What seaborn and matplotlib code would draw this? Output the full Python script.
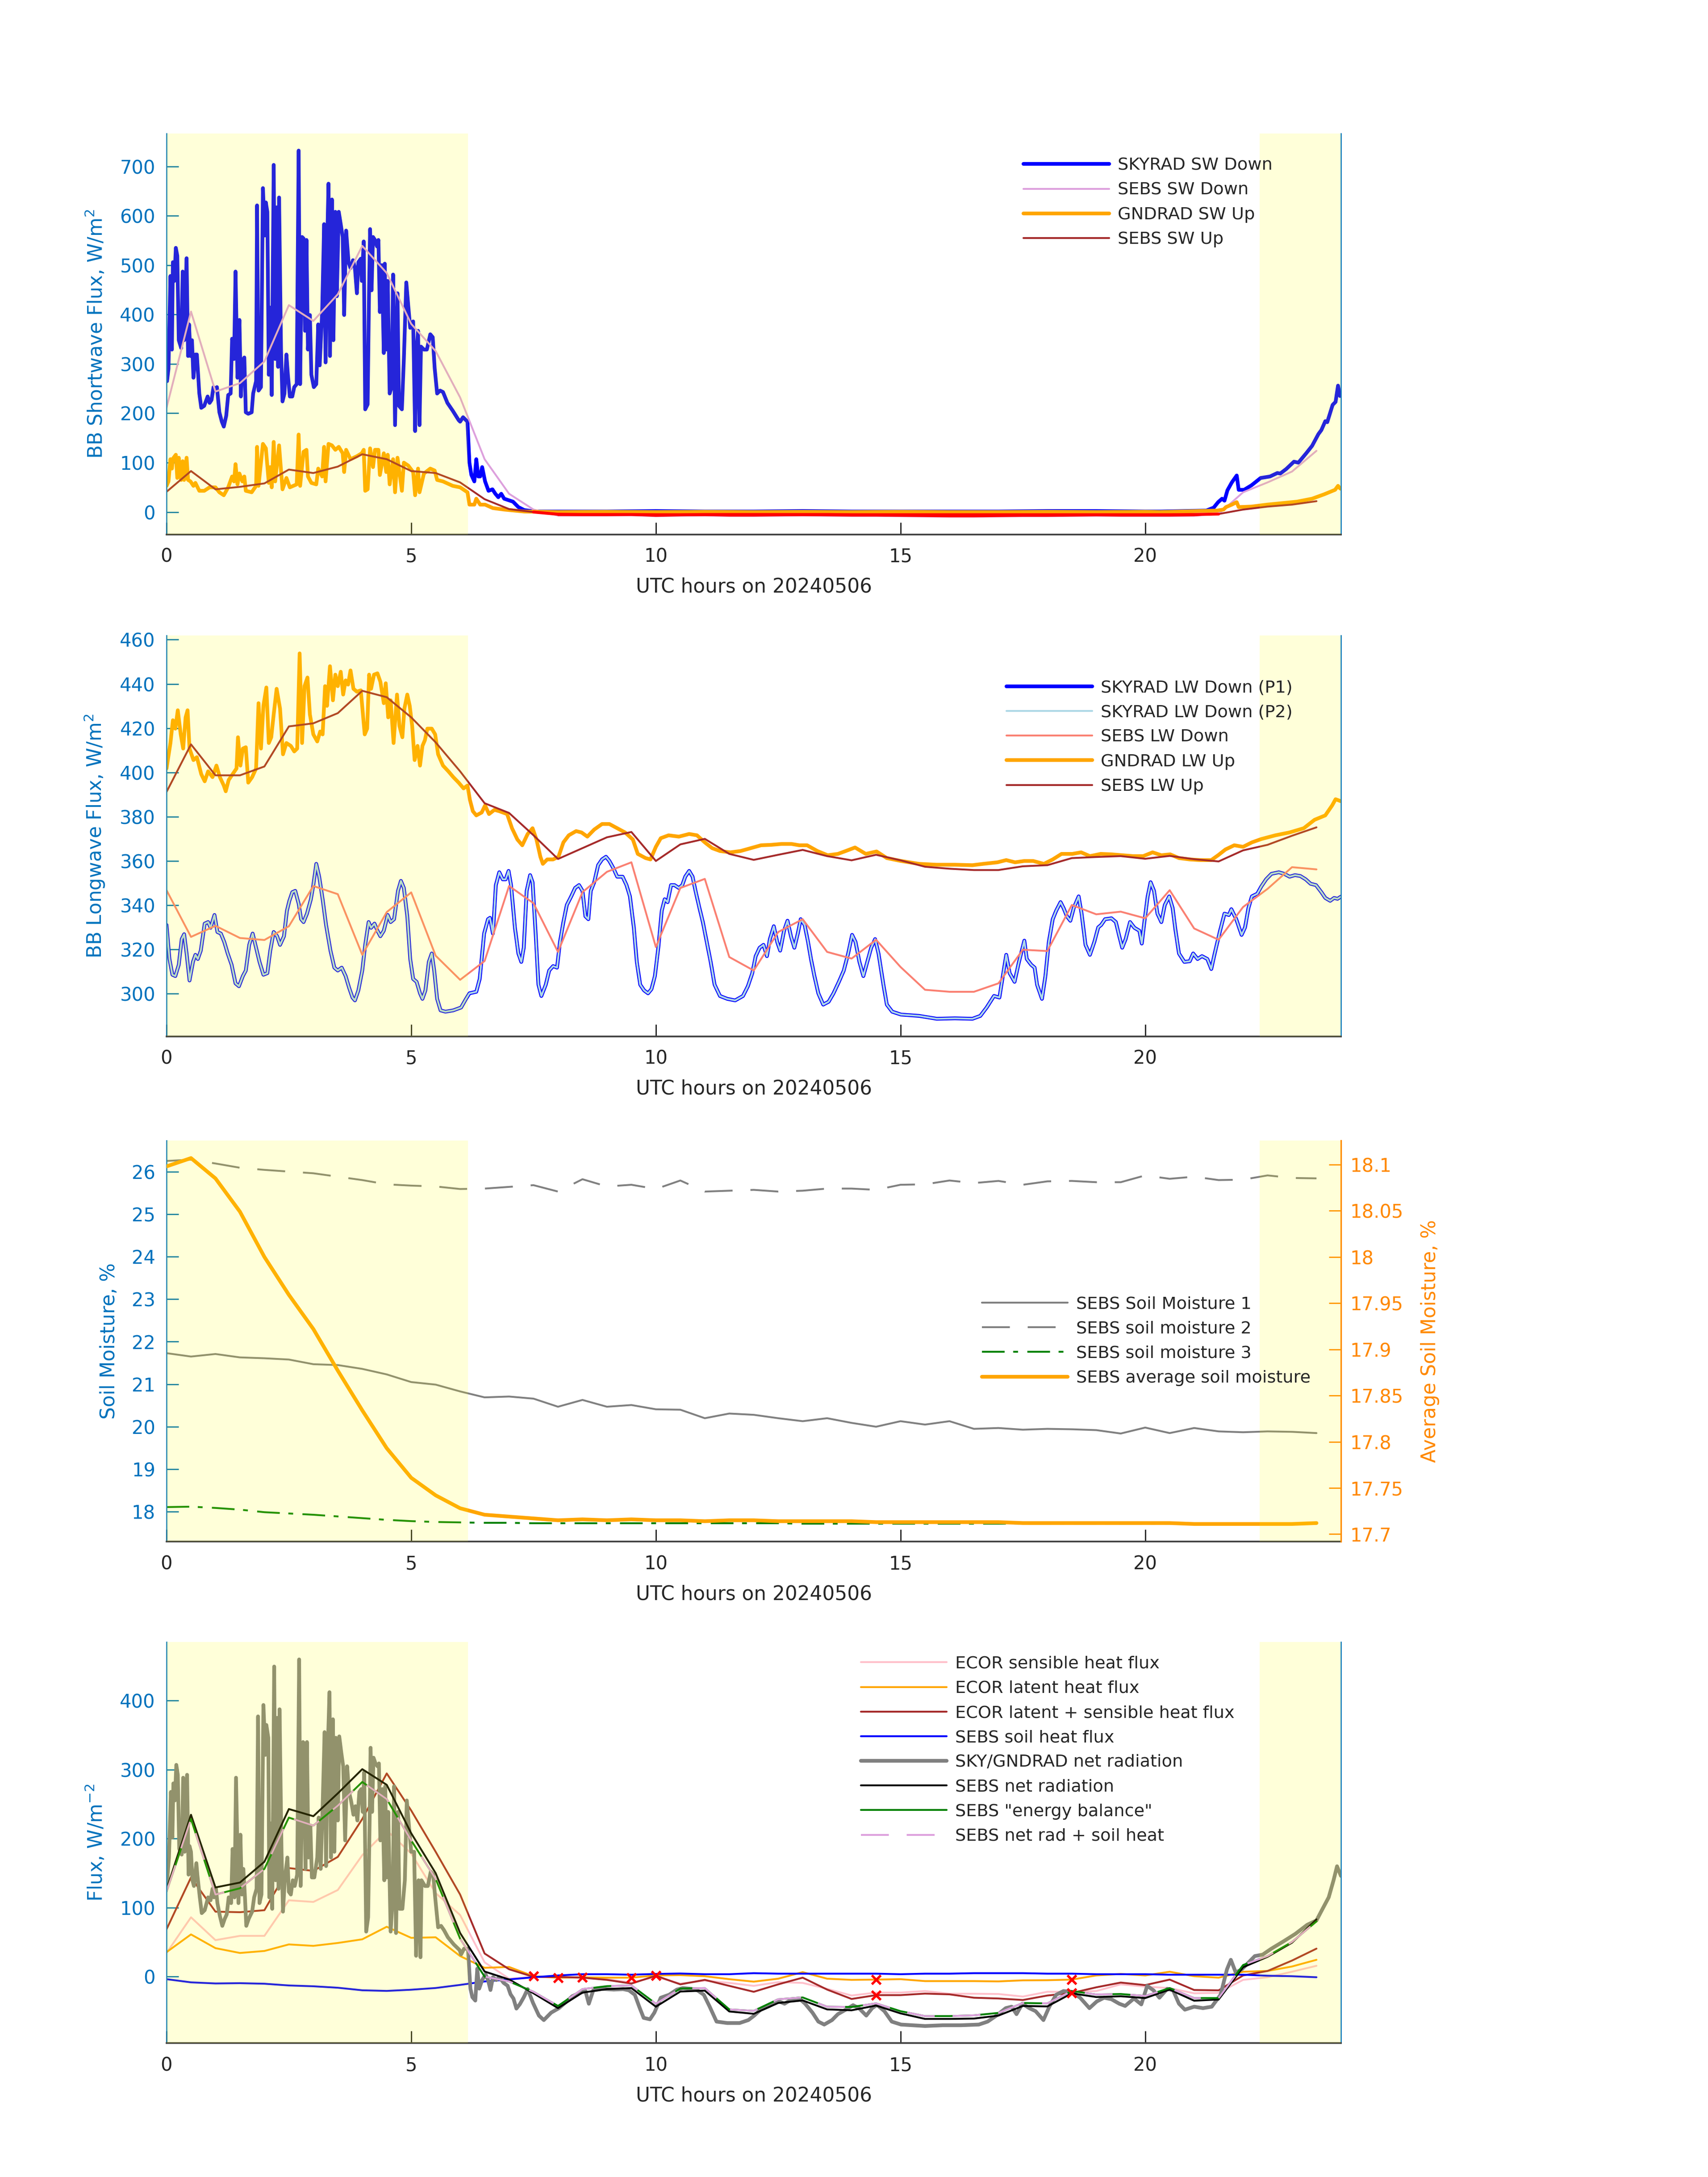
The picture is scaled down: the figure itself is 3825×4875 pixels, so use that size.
import numpy as np
import matplotlib
matplotlib.use("Agg")
import matplotlib.pyplot as plt
import seaborn as sns
from matplotlib.ticker import FuncFormatter

# ------------------------------------------------------------------ data
hour_ticks = [0, 5, 10, 15, 20]
day_spans = [(0.0, 6.16), (22.34, 24.0)]

sebs_hours = [0.0, 0.5, 1.0, 1.5, 2.0, 2.5, 3.0, 3.5, 4.0, 4.5, 5.0, 5.5, 6.0, 6.5, 7.0, 7.5,
              8.0, 8.5, 9.0, 9.5, 10.0, 10.5, 11.0, 11.5, 12.0, 12.5, 13.0, 13.5, 14.0, 14.5, 15.0, 15.5,
              16.0, 16.5, 17.0, 17.5, 18.0, 18.5, 19.0, 19.5, 20.0, 20.5, 21.0, 21.5, 22.0, 22.5, 23.0, 23.5]

# ---- panel 1 : shortwave
sky_sw_hours = [0.00, 0.01, 0.04, 0.08, 0.11, 0.13, 0.16, 0.19, 0.22, 0.25,
                0.30, 0.33, 0.36, 0.41, 0.44, 0.46, 0.49, 0.52, 0.55, 0.59,
                0.62, 0.67, 0.71, 0.77, 0.84, 0.88, 0.92, 0.96, 1.00, 1.03,
                1.08, 1.13, 1.17, 1.22, 1.26, 1.31, 1.34, 1.38, 1.41, 1.45,
                1.49, 1.52, 1.55, 1.59, 1.62, 1.67, 1.74, 1.77, 1.83, 1.85,
                1.88, 1.93, 1.97, 2.01, 2.03, 2.06, 2.09, 2.12, 2.15, 2.19,
                2.22, 2.25, 2.28, 2.30, 2.34, 2.37, 2.41, 2.45, 2.48, 2.52,
                2.57, 2.61, 2.66, 2.70, 2.73, 2.77, 2.80, 2.83, 2.86, 2.89,
                2.93, 2.96, 3.01, 3.06, 3.10, 3.13, 3.18, 3.22, 3.25, 3.28,
                3.31, 3.34, 3.38, 3.41, 3.45, 3.48, 3.52, 3.56, 3.60, 3.63,
                3.67, 3.72, 3.76, 3.81, 3.85, 3.89, 3.92, 3.97, 3.99, 4.03,
                4.06, 4.11, 4.14, 4.16, 4.19, 4.22, 4.26, 4.30, 4.33, 4.36,
                4.40, 4.44, 4.46, 4.49, 4.52, 4.56, 4.60, 4.63, 4.67, 4.72,
                4.75, 4.81, 4.85, 4.90, 4.94, 4.98, 5.04, 5.08, 5.11, 5.14,
                5.17, 5.20, 5.26, 5.32, 5.39, 5.44, 5.48, 5.53, 5.59, 5.65,
                5.74, 5.85, 5.97, 6.00, 6.06, 6.15, 6.19, 6.23, 6.29, 6.33,
                6.37, 6.41, 6.45, 6.51, 6.58, 6.66, 6.72, 6.78, 6.84, 6.90,
                6.99, 7.08, 7.19, 7.31, 7.53,
                8.0, 9.0, 10.0, 11.0, 12.0, 13.0, 14.0, 15.0, 16.0, 17.0,
                18.0, 19.0, 20.0, 20.32, 21.25, 21.40, 21.49, 21.57, 21.62, 21.68,
                21.77, 21.87, 21.91, 22.02, 22.17, 22.36, 22.55, 22.70, 22.76, 22.88,
                23.04, 23.13, 23.29, 23.41, 23.54, 23.60, 23.68, 23.72, 23.83, 23.89,
                23.94, 23.98, 24.0]
sky_sw_down = [265, 265, 290, 478, 329, 506, 468, 535, 519, 348,
               332, 487, 348, 514, 316, 380, 316, 348, 272, 319,
               319, 240, 211, 215, 234, 221, 227, 253, 246, 253,
               202, 183, 173, 195, 237, 240, 351, 310, 487, 272,
               389, 234, 307, 313, 202, 199, 202, 240, 265, 621,
               246, 253, 656, 560, 627, 608, 278, 414, 237, 703,
               310, 617, 294, 637, 329, 224, 240, 319, 278, 234,
               234, 253, 259, 732, 259, 557, 554, 367, 551, 329,
               399, 278, 253, 259, 380, 297, 405, 583, 303, 532,
               665, 316, 633, 348, 608, 437, 608, 583, 557, 399,
               570, 506, 494, 510, 494, 443, 506, 513, 468, 548,
               208, 218, 456, 573, 449, 557, 551, 538, 551, 405,
               500, 322, 503, 329, 468, 240, 253, 481, 176, 443,
               215, 208, 310, 465, 418, 373, 386, 164, 329, 367,
               176, 335, 329, 329, 360, 354, 291, 240, 246, 243,
               221, 205, 186, 183, 192, 183, 100, 75, 62, 107,
               72, 72, 91, 62, 43, 46, 37, 30, 37, 27,
               24, 21, 10, 4, 1,
               1, 1, 2, 1, 1, 2, 1, 1, 1, 1,
               2, 2, 1, 1, 3, 9, 20, 27, 23, 44,
               60, 74, 45, 45, 54, 69, 72, 79, 78, 87,
               102, 100, 119, 134, 158, 166, 184, 182, 217, 223,
               256, 235, 236]

gnd_sw_hours = [0.0, 0.04, 0.08, 0.11, 0.13, 0.19, 0.22, 0.25, 0.30, 0.33,
                0.36, 0.41, 0.44, 0.49, 0.55, 0.59, 0.67, 0.77, 0.88, 1.00,
                1.08, 1.17, 1.26, 1.34, 1.38, 1.41, 1.45, 1.49, 1.55, 1.59,
                1.62, 1.74, 1.83, 1.85, 1.88, 1.97, 2.03, 2.09, 2.12, 2.15,
                2.19, 2.22, 2.30, 2.37, 2.45, 2.52, 2.66, 2.70, 2.73, 2.80,
                2.86, 2.89, 2.96, 3.06, 3.10, 3.18, 3.22, 3.25, 3.31, 3.38,
                3.45, 3.52, 3.60, 3.63, 3.67, 3.76, 3.89, 3.99, 4.03, 4.06,
                4.11, 4.16, 4.22, 4.26, 4.33, 4.36, 4.44, 4.49, 4.52, 4.56,
                4.63, 4.67, 4.72, 4.81, 4.85, 4.94, 5.04, 5.08, 5.14, 5.17,
                5.26, 5.39, 5.48, 5.53, 5.65, 5.85, 6.00, 6.15, 6.19, 6.29,
                6.33, 6.41, 6.51, 6.67, 6.90, 7.31,
                8.0, 9.0, 10.0, 11.0, 12.0, 13.0, 14.0, 15.0, 16.0, 17.0,
                18.0, 19.0, 20.0, 20.3, 21.47, 21.6, 21.65, 21.77, 21.87, 21.91,
                22.17, 22.49, 22.8, 23.1, 23.41, 23.66, 23.88, 23.94, 23.98, 24.0]
gnd_sw_up = [53, 62, 107, 88, 108, 116, 69, 110, 65, 103,
             65, 110, 65, 62, 53, 59, 43, 43, 50, 50,
             40, 34, 50, 72, 62, 97, 56, 78, 62, 72,
             43, 40, 53, 132, 53, 138, 129, 59, 91, 50,
             142, 62, 135, 46, 69, 50, 56, 157, 53, 122,
             126, 72, 59, 56, 88, 72, 132, 62, 138, 135,
             126, 132, 119, 81, 126, 107, 113, 119, 126, 43,
             46, 129, 91, 126, 126, 75, 119, 81, 116, 56,
             107, 40, 110, 43, 100, 94, 81, 34, 88, 40,
             78, 88, 84, 65, 62, 53, 50, 40, 15, 15,
             27, 15, 15, 8, 5, 1,
             0, 0.5, 0, 0.5, 0, 0.5, 0, 0.5, 0, 0,
             0.5, 0, 0.5, 0, 3, 5, 10, 15, 20, 10,
             11, 15, 18, 21, 27, 36, 45, 53, 48, 47]

sebs_sw_down = [211, 406, 244, 261, 305, 419, 387, 441, 539, 484, 381, 326, 232, 107, 37, 5,
                -7, -7, -7, -6.5, -8.5, -7.5, -7, -8, -8, -7.5, -7, -7.5, -8, -8, -8.5, -9,
                -9.5, -9.5, -9, -8.5, -8.5, -8, -7.5, -8, -8, -8, -7.5, -4, 40, 60, 82, 124]
sebs_sw_up = [41, 83, 46, 51, 58, 86, 79, 92, 117, 107, 83, 79, 60, 26, 6, 0,
              -4.5, -5, -5, -5, -5.5, -5.5, -5, -5, -5, -5, -5, -5, -5.5, -5.5, -5.5, -5.5,
              -5.5, -5.5, -5.5, -5.5, -5.5, -5.5, -5.5, -5.5, -5.5, -5.5, -5, -4, 5, 11, 15, 22]

# ---- panel 2 : longwave
sky_lw = np.array([
    [0.00, 331.1], [0.06, 315.7], [0.12, 308.6], [0.18, 308.0], [0.25, 313.1], [0.31, 324.7], [0.36, 326.9], [0.41, 318.2],
    [0.47, 306.0], [0.54, 314.4], [0.59, 317.6], [0.64, 315.7], [0.70, 319.5], [0.78, 331.7], [0.85, 332.4], [0.90, 329.8],
    [0.98, 335.6], [1.04, 327.9], [1.11, 327.2], [1.18, 323.4], [1.25, 318.2], [1.33, 313.1], [1.41, 304.7], [1.48, 303.4],
    [1.56, 308.0], [1.62, 310.5], [1.69, 322.1], [1.76, 327.2], [1.83, 320.8], [1.90, 314.4], [1.98, 308.6], [2.06, 309.3],
    [2.12, 319.5], [2.19, 327.9], [2.26, 326.0], [2.32, 322.1], [2.40, 326.0], [2.46, 337.5], [2.51, 342.0], [2.57, 345.9],
    [2.63, 346.5], [2.70, 340.7], [2.75, 333.7], [2.80, 332.4], [2.87, 336.2], [2.95, 342.7], [3.00, 349.1], [3.06, 358.7],
    [3.12, 352.9], [3.19, 342.7], [3.26, 331.1], [3.35, 319.5], [3.43, 311.8], [3.50, 310.5], [3.58, 311.8], [3.66, 308.0],
    [3.73, 302.8], [3.80, 298.3], [3.85, 297.0], [3.92, 301.5], [4.00, 310.5], [4.06, 322.1], [4.13, 332.4], [4.18, 329.8],
    [4.25, 331.7], [4.31, 328.5], [4.37, 326.0], [4.44, 328.5], [4.52, 335.6], [4.58, 332.4], [4.65, 333.7], [4.73, 346.5],
    [4.79, 351.0], [4.85, 347.8], [4.92, 335.0], [4.98, 315.7], [5.04, 306.7], [5.11, 305.4], [5.18, 300.2], [5.23, 297.7],
    [5.29, 301.5], [5.36, 314.4], [5.42, 318.2], [5.47, 310.5], [5.53, 297.7], [5.60, 292.5], [5.70, 291.9], [5.86, 292.5],
    [6.02, 293.8], [6.12, 297.7], [6.19, 300.2], [6.33, 300.9], [6.40, 306.7], [6.49, 327.2], [6.57, 333.7], [6.61, 334.3],
    [6.67, 327.2], [6.73, 349.1], [6.80, 354.9], [6.87, 351.7], [6.93, 351.7], [6.99, 355.5], [7.04, 349.1], [7.12, 329.8],
    [7.19, 318.2], [7.25, 314.4], [7.30, 320.8], [7.36, 346.5], [7.43, 353.6], [7.48, 350.4], [7.54, 328.5], [7.60, 304.1],
    [7.66, 299.0], [7.75, 304.1], [7.82, 310.5], [7.90, 312.5], [7.98, 311.8], [8.04, 323.4], [8.11, 332.4], [8.18, 340.1],
    [8.27, 344.0], [8.35, 347.8], [8.43, 349.1], [8.50, 346.5], [8.56, 335.0], [8.62, 333.7], [8.67, 346.5], [8.74, 350.4],
    [8.82, 358.1], [8.90, 360.7], [8.98, 361.9], [9.05, 360.0], [9.13, 356.8], [9.21, 352.9], [9.32, 352.9], [9.40, 349.1],
    [9.47, 344.0], [9.55, 329.8], [9.61, 314.4], [9.68, 304.1], [9.76, 301.5], [9.84, 300.2], [9.91, 302.1], [9.98, 308.0],
    [10.05, 320.8], [10.12, 337.5], [10.18, 342.7], [10.24, 341.4], [10.31, 349.1], [10.38, 349.1], [10.47, 347.8],
    [10.54, 349.1], [10.60, 352.9], [10.68, 355.5], [10.75, 352.9], [10.81, 346.5], [10.89, 338.8], [10.96, 332.4],
    [11.04, 323.4], [11.12, 314.4], [11.20, 304.1], [11.31, 299.0], [11.46, 297.7], [11.62, 297.0], [11.78, 299.0],
    [11.88, 303.4], [11.97, 309.3], [12.04, 317.0], [12.12, 320.8], [12.20, 322.1], [12.27, 317.0], [12.33, 324.7],
    [12.41, 330.5], [12.48, 323.4], [12.54, 319.5], [12.62, 328.5], [12.69, 333.0], [12.76, 326.0], [12.83, 320.8],
    [12.90, 327.2], [12.96, 333.7], [13.04, 331.1], [13.11, 323.4], [13.17, 315.7], [13.24, 308.0], [13.32, 300.2],
    [13.42, 295.1], [13.53, 296.4], [13.63, 300.2], [13.74, 305.4], [13.84, 310.5], [13.93, 318.2], [14.01, 326.6],
    [14.08, 323.4], [14.16, 314.4], [14.24, 308.0], [14.32, 314.4], [14.40, 320.8], [14.48, 324.7], [14.55, 318.2],
    [14.65, 304.1], [14.72, 295.1], [14.83, 291.9], [15.01, 290.6], [15.38, 290.0], [15.74, 288.7], [16.11, 288.9],
    [16.47, 288.7], [16.63, 290.0], [16.76, 293.8], [16.91, 299.0], [17.02, 298.3], [17.09, 308.0], [17.16, 317.6],
    [17.23, 309.3], [17.33, 305.4], [17.42, 314.4], [17.53, 324.0], [17.58, 315.7], [17.67, 313.1], [17.74, 311.8],
    [17.79, 304.1], [17.89, 297.7], [17.96, 308.0], [18.03, 323.4], [18.11, 333.7], [18.18, 337.5], [18.27, 341.4],
    [18.33, 338.8], [18.40, 335.0], [18.47, 333.0], [18.54, 338.8], [18.64, 344.0], [18.70, 336.2], [18.78, 322.1],
    [18.87, 317.6], [18.96, 323.4], [19.04, 330.0], [19.10, 331.1], [19.18, 333.7], [19.31, 334.1], [19.40, 332.4],
    [19.47, 326.0], [19.53, 320.8], [19.60, 324.7], [19.69, 332.4], [19.78, 329.8], [19.88, 328.5], [19.93, 322.7],
    [19.99, 333.7], [20.05, 344.0], [20.11, 350.4], [20.18, 346.5], [20.25, 336.2], [20.33, 332.4], [20.40, 340.1],
    [20.49, 344.0], [20.56, 338.8], [20.62, 328.5], [20.69, 318.2], [20.80, 314.4], [20.91, 314.7], [20.98, 318.2],
    [21.07, 315.7], [21.16, 317.0], [21.27, 315.7], [21.35, 311.2], [21.42, 318.2], [21.53, 328.5], [21.62, 336.2],
    [21.71, 335.6], [21.76, 338.2], [21.86, 333.7], [21.97, 326.6], [22.04, 330.0], [22.11, 338.8], [22.18, 344.0],
    [22.29, 345.2], [22.37, 348.4], [22.47, 351.7], [22.58, 354.2], [22.73, 354.9], [22.84, 354.2], [22.95, 352.9],
    [23.06, 353.6], [23.17, 353.2], [23.28, 351.7], [23.38, 349.7], [23.49, 349.1], [23.60, 345.9], [23.68, 343.3],
    [23.78, 342.0], [23.86, 343.3], [23.93, 342.9], [24.00, 343.9]])

gnd_lw = np.array([
    [0.00, 401.8], [0.08, 413.3], [0.13, 423.6], [0.18, 419.8], [0.23, 428.1], [0.29, 417.2], [0.34, 410.8], [0.39, 424.9],
    [0.43, 428.1], [0.47, 410.8], [0.55, 405.6], [0.62, 406.9], [0.71, 399.2], [0.78, 396.0], [0.85, 400.5], [0.94, 397.9],
    [1.02, 403.1], [1.09, 397.9], [1.17, 394.1], [1.21, 391.5], [1.27, 396.6], [1.35, 399.2], [1.43, 401.8], [1.46, 415.9],
    [1.51, 403.1], [1.56, 410.8], [1.62, 411.4], [1.67, 395.4], [1.75, 397.9], [1.83, 401.8], [1.88, 431.3], [1.93, 410.8],
    [1.98, 430.1], [2.04, 438.4], [2.09, 413.3], [2.14, 415.9], [2.19, 426.2], [2.25, 437.8], [2.32, 428.8], [2.38, 408.2],
    [2.45, 413.3], [2.54, 412.0], [2.61, 409.5], [2.67, 410.8], [2.72, 453.8], [2.77, 413.3], [2.82, 439.0], [2.88, 442.9],
    [2.93, 426.2], [3.00, 417.2], [3.08, 414.0], [3.14, 418.5], [3.19, 417.2], [3.24, 439.0], [3.28, 430.1], [3.34, 448.0],
    [3.40, 432.6], [3.45, 444.2], [3.50, 439.0], [3.56, 445.5], [3.61, 435.2], [3.66, 441.6], [3.71, 439.7], [3.76, 446.1],
    [3.82, 437.8], [3.89, 436.5], [3.97, 437.1], [4.05, 417.2], [4.10, 419.8], [4.14, 444.2], [4.18, 437.8], [4.24, 444.2],
    [4.31, 444.8], [4.37, 441.0], [4.44, 431.3], [4.48, 440.3], [4.53, 424.9], [4.58, 432.6], [4.64, 413.3], [4.71, 435.2],
    [4.76, 421.0], [4.82, 415.9], [4.86, 428.8], [4.92, 435.2], [4.97, 430.1], [5.02, 421.0], [5.07, 405.6], [5.13, 412.0],
    [5.18, 403.1], [5.23, 412.0], [5.28, 414.6], [5.33, 419.8], [5.42, 419.8], [5.49, 417.2], [5.55, 408.2], [5.65, 403.1],
    [5.76, 400.5], [5.86, 397.9], [5.97, 395.4], [6.07, 392.8], [6.15, 394.1], [6.20, 387.6], [6.26, 382.5], [6.33, 380.6],
    [6.44, 381.9], [6.51, 385.1], [6.59, 381.2], [6.70, 383.1], [6.80, 382.5], [6.96, 381.2], [7.06, 374.8], [7.17, 369.7],
    [7.27, 367.1], [7.38, 372.2], [7.48, 374.8], [7.56, 369.7], [7.64, 361.9], [7.69, 358.7], [7.78, 360.7], [7.90, 360.7],
    [8.01, 361.9], [8.11, 368.4], [8.22, 371.6], [8.37, 373.5], [8.48, 372.9], [8.60, 371.0], [8.74, 374.2], [8.90, 376.7],
    [9.05, 376.7], [9.21, 374.8], [9.37, 372.9], [9.53, 369.7], [9.63, 363.2], [9.79, 361.3], [9.89, 360.7], [10.00, 366.4],
    [10.10, 370.3], [10.26, 371.6], [10.47, 371.0], [10.68, 372.2], [10.84, 371.6], [11.00, 368.4], [11.15, 365.8],
    [11.31, 364.5], [11.52, 363.9], [11.73, 364.5], [11.94, 365.8], [12.15, 367.1], [12.36, 367.3], [12.57, 367.7],
    [12.77, 367.7], [12.93, 367.1], [13.09, 367.1], [13.30, 364.5], [13.51, 362.6], [13.72, 363.2], [13.88, 364.5],
    [14.07, 366.1], [14.29, 363.2], [14.51, 364.3], [14.72, 361.3], [15.01, 360.0], [15.38, 358.7], [15.74, 358.3],
    [16.11, 358.3], [16.47, 358.1], [16.69, 358.7], [16.98, 359.4], [17.16, 360.4], [17.34, 359.4], [17.53, 360.0],
    [17.71, 360.0], [17.93, 358.7], [18.11, 360.7], [18.29, 363.2], [18.51, 363.2], [18.69, 363.9], [18.87, 362.2],
    [19.09, 363.2], [19.31, 363.0], [19.53, 362.6], [19.75, 362.2], [19.96, 362.2], [20.15, 363.9], [20.33, 362.6],
    [20.51, 363.0], [20.69, 361.3], [20.91, 360.7], [21.13, 360.4], [21.35, 360.4], [21.49, 362.6], [21.64, 365.2],
    [21.82, 367.1], [22.00, 366.4], [22.18, 368.4], [22.37, 369.9], [22.66, 371.6], [22.95, 372.9], [23.24, 374.8],
    [23.46, 378.6], [23.68, 380.6], [23.82, 385.1], [23.89, 387.9], [24.00, 387.0]])

sebs_lw_down = [346.8, 325.7, 330.7, 325.2, 324.3, 330.5, 348.7, 345.0, 317.6, 336.9, 345.8, 317.2,
                306.3, 314.8, 348.7, 340.9, 318.9, 345.9, 355.1, 359.4, 321.1, 347.8, 351.9, 316.6,
                310.5, 327.9, 333.7, 318.9, 315.9, 324.4, 312.1, 301.8, 300.9, 300.9, 304.7, 319.9,
                319.3, 340.1, 335.9, 337.1, 334.1, 346.8, 329.5, 324.4, 339.2, 347.4, 357.2, 356.2]
sebs_lw_up = [391.2, 412.7, 398.7, 398.7, 402.7, 420.8, 422.2, 426.8, 436.9, 434.0, 424.9, 413.6,
              400.5, 386.1, 381.7, 371.6, 360.9, 365.8, 370.7, 373.1, 360.0, 367.5, 370.0, 363.2,
              360.5, 362.8, 365.0, 362.2, 360.3, 362.8, 360.3, 357.4, 356.5, 355.9, 355.9, 357.6,
              358.1, 361.3, 361.8, 362.2, 361.0, 362.3, 360.8, 359.8, 364.8, 367.3, 371.4, 375.2]

# ---- panel 3 : soil moisture
soil_m1 = [21.73, 21.65, 21.71, 21.63, 21.61, 21.58, 21.47, 21.45, 21.36, 21.23, 21.05, 20.99,
           20.83, 20.69, 20.71, 20.66, 20.47, 20.63, 20.47, 20.51, 20.41, 20.40, 20.20, 20.31,
           20.28, 20.20, 20.13, 20.20, 20.09, 20.00, 20.13, 20.05, 20.13, 19.95, 19.97, 19.93,
           19.95, 19.94, 19.92, 19.84, 19.98, 19.85, 19.97, 19.89, 19.87, 19.89, 19.88, 19.85]
soil_m2 = [26.25, 26.28, 26.19, 26.09, 26.04, 26.00, 25.96, 25.88, 25.80, 25.70, 25.67, 25.65,
           25.59, 25.60, 25.64, 25.68, 25.53, 25.82, 25.65, 25.69, 25.59, 25.79, 25.53, 25.55,
           25.57, 25.53, 25.55, 25.60, 25.60, 25.57, 25.69, 25.70, 25.79, 25.73, 25.78, 25.69,
           25.77, 25.78, 25.75, 25.75, 25.91, 25.83, 25.88, 25.80, 25.81, 25.91, 25.85, 25.84]
soil_m3 = [18.11, 18.12, 18.09, 18.05, 17.99, 17.96, 17.93, 17.89, 17.85, 17.81, 17.78, 17.76,
           17.75, 17.74, 17.74, 17.73, 17.73, 17.73, 17.73, 17.73, 17.73, 17.73, 17.73, 17.73,
           17.73, 17.73, 17.72, 17.72, 17.72, 17.72, 17.72, 17.72, 17.72, 17.72, 17.72, 17.72,
           17.72, 17.72, 17.72, 17.72, 17.72, 17.72, 17.72, 17.72, 17.72, 17.72, 17.72, 17.72]
soil_avg = [18.098, 18.107, 18.085, 18.049, 18.000, 17.959, 17.922, 17.877, 17.834, 17.793, 17.761, 17.742,
            17.728, 17.721, 17.719, 17.717, 17.715, 17.716, 17.715, 17.716, 17.715, 17.715, 17.714, 17.715,
            17.715, 17.714, 17.714, 17.714, 17.714, 17.713, 17.713, 17.713, 17.713, 17.713, 17.713, 17.712,
            17.712, 17.712, 17.712, 17.712, 17.712, 17.712, 17.711, 17.711, 17.711, 17.711, 17.711, 17.712]

# ---- panel 4 : energy fluxes
ecor_sens = [34.3, 86.0, 52.9, 59.1, 59.1, 110.7, 108.3, 125.6, 176.0, 212.0, 178.5, 121.1,
             89.3, 20.7, -2.9, -0.4, -1.5, -0.4, -3.7, -8.6, -0.4, -10.1, -5.8, -9.1,
             -13.4, -8.0, -9.1, -17.7, -27.4, -23.1, -23.1, -20.9, -24.8, -24.8, -25.2, -28.9,
             -22.0, -22.0, -20.9, -11.2, -14.5, -16.6, -24.2, -23.5, -4.7, -0.9, 7.1, 15.7]
ecor_lat = [35.5, 61.2, 41.3, 34.3, 37.2, 46.7, 44.6, 48.8, 54.1, 72.3, 56.2, 57.0,
            29.8, 12.8, 14.0, 0.6, -1.5, -1.1, -1.5, -1.5, 1.7, 2.2, 0.6, -3.7,
            -7.3, -3.0, 6.5, -3.0, -4.7, -4.3, -3.7, -6.5, -6.5, -6.5, -6.9, -5.4,
            -5.2, -4.3, 1.7, 3.9, 1.7, 7.1, 0.6, -1.5, 7.1, 8.2, 14.7, 24.4]
ecor_sum = [68.6, 143.8, 94.2, 93.4, 96.3, 157.4, 153.3, 173.6, 228.5, 294.6, 240.9, 181.0,
            119.0, 33.5, 10.7, -0.4, -0.4, -1.5, -4.7, -10.1, 1.3, -11.2, -4.7, -13.4,
            -22.0, -11.2, -1.5, -18.8, -32.4, -26.8, -26.8, -24.6, -25.7, -30.6, -31.7, -33.9,
            -27.4, -23.7, -15.5, -8.6, -12.3, -4.3, -19.4, -19.9, 1.7, 8.2, 23.3, 40.6]
sebs_soil_heat = [-3.7, -8.3, -9.9, -9.5, -10.3, -12.8, -14.0, -16.1, -19.8, -20.7, -19.0, -16.5,
                  -12.0, -7.0, -4.1, -0.9, 1.7, 3.5, 3.5, 2.8, 3.9, 4.5, 3.5, 3.5,
                  5.0, 4.3, 4.3, 4.3, 4.3, 4.3, 3.5, 4.3, 4.3, 5.0, 5.0, 5.0,
                  4.3, 4.3, 3.5, 3.5, 3.5, 2.8, 2.8, 2.8, 2.8, 1.3, 0.6, -0.9]
sebs_net_rad = [126.4, 234.7, 129.3, 136.4, 166.5, 243.0, 232.6, 265.7, 300.8, 278.1, 207.9, 150.0,
                63.2, 7.4, -4.1, -24.2, -45.7, -23.1, -18.1, -16.6, -43.6, -21.6, -20.3, -50.5,
                -53.9, -38.2, -34.5, -47.5, -48.8, -41.9, -53.3, -61.3, -61.3, -60.8, -56.5, -42.5,
                -43.2, -24.2, -29.6, -28.5, -31.1, -18.8, -34.9, -33.2, 13.6, 28.7, 49.2, 83.0]
sebs_balance = [123.1, 228.5, 119.0, 128.1, 156.2, 230.6, 219.0, 247.9, 282.2, 257.4, 197.5, 141.7,
                55.0, 0.0, -7.0, -22.0, -42.5, -18.1, -13.8, -12.7, -39.3, -17.3, -16.6, -47.5,
                -49.6, -32.8, -30.2, -43.6, -44.0, -38.8, -50.1, -57.2, -57.2, -56.1, -52.6, -38.2,
                -38.8, -20.9, -25.9, -25.2, -28.0, -16.6, -31.1, -31.1, 16.8, 29.8, 50.3, 80.0]
flag_lat_hours = [7.5, 8.0, 8.5, 9.5, 10.0, 14.5, 18.5]
flag_sum_hours = [14.5, 18.5]

net_rad_sky = np.array([
    [0.00, 127.3], [0.05, 172.7], [0.09, 267.8], [0.12, 201.7], [0.14, 280.2], [0.17, 255.4], [0.20, 307.0], [0.23, 292.6],
    [0.26, 185.1], [0.31, 176.9], [0.34, 288.4], [0.37, 181.0], [0.42, 292.6], [0.45, 147.9], [0.47, 189.3], [0.50, 181.0],
    [0.53, 139.7], [0.56, 131.4], [0.61, 164.5], [0.63, 147.9], [0.68, 114.9], [0.72, 92.1], [0.78, 96.3], [0.85, 114.9],
    [0.90, 110.7], [0.94, 127.3], [0.97, 114.9], [1.01, 127.3], [1.04, 106.6], [1.09, 88.0], [1.14, 73.6], [1.19, 83.9],
    [1.23, 90.1], [1.27, 114.9], [1.32, 106.6], [1.35, 185.1], [1.39, 114.9], [1.42, 288.4], [1.47, 106.6], [1.51, 205.8],
    [1.54, 119.0], [1.57, 156.2], [1.60, 119.0], [1.63, 73.6], [1.68, 83.9], [1.75, 94.2], [1.79, 114.9], [1.84, 127.3],
    [1.87, 377.3], [1.90, 106.6], [1.94, 119.0], [1.98, 393.8], [2.02, 321.5], [2.04, 364.9], [2.08, 346.3], [2.10, 114.9],
    [2.14, 222.3], [2.16, 98.3], [2.20, 449.6], [2.23, 139.7], [2.26, 375.2], [2.29, 127.3], [2.31, 387.6], [2.35, 181.0],
    [2.38, 94.2], [2.42, 143.8], [2.47, 172.7], [2.50, 123.1], [2.54, 119.0], [2.58, 139.7], [2.62, 131.4], [2.67, 147.9],
    [2.71, 459.9], [2.74, 131.4], [2.79, 340.1], [2.81, 338.0], [2.84, 156.2], [2.87, 340.1], [2.90, 172.7], [2.94, 218.2],
    [2.97, 143.8], [3.02, 143.8], [3.08, 172.7], [3.11, 230.6], [3.15, 156.2], [3.19, 247.1], [3.23, 354.5], [3.26, 160.3],
    [3.29, 317.4], [3.33, 412.4], [3.36, 172.7], [3.40, 373.1], [3.43, 181.0], [3.46, 346.3], [3.50, 226.4], [3.53, 348.3],
    [3.57, 325.6], [3.61, 305.0], [3.65, 197.5], [3.69, 305.0], [3.73, 267.8], [3.77, 255.4], [3.82, 234.7], [3.86, 247.1],
    [3.90, 226.4], [3.94, 267.8], [3.98, 271.9], [4.01, 238.8], [4.04, 296.7], [4.08, 65.3], [4.12, 86.0], [4.15, 222.3],
    [4.17, 331.8], [4.20, 238.8], [4.23, 317.4], [4.27, 309.1], [4.31, 305.0], [4.34, 309.1], [4.37, 197.5], [4.41, 271.9],
    [4.45, 139.7], [4.47, 276.0], [4.50, 143.8], [4.53, 238.8], [4.58, 65.3], [4.62, 110.7], [4.65, 276.0], [4.69, 63.2],
    [4.73, 238.8], [4.76, 98.3], [4.82, 98.3], [4.87, 139.7], [4.91, 255.4], [4.95, 222.3], [5.00, 181.0], [5.06, 181.0],
    [5.10, 30.2], [5.13, 131.4], [5.15, 139.7], [5.19, 28.1], [5.21, 139.7], [5.28, 131.4], [5.34, 131.4], [5.40, 152.1],
    [5.45, 147.9], [5.49, 114.9], [5.55, 71.5], [5.61, 73.6], [5.67, 67.4], [5.75, 57.0], [5.87, 46.7], [5.99, 38.4],
    [6.02, 32.2], [6.08, 40.5], [6.16, 40.5], [6.21, -17.4], [6.25, -29.8], [6.31, -34.7], [6.35, 11.6], [6.39, -17.4],
    [6.45, -5.0], [6.52, 3.3], [6.57, -5.0], [6.62, -19.4], [6.67, -0.8], [6.74, -5.0], [6.80, -0.8], [6.89, -9.1],
    [6.97, -13.2], [7.03, -25.6], [7.09, -31.8], [7.15, -46.3], [7.22, -40.0], [7.30, -30.0], [7.38, -18.0], [7.49, -38.2],
    [7.61, -56.5], [7.71, -63.0], [7.86, -52.2], [8.02, -45.7], [8.16, -37.1], [8.29, -28.5], [8.43, -24.2], [8.56, -20.9],
    [8.63, -39.3], [8.72, -19.9], [8.90, -17.7], [9.14, -18.8], [9.33, -18.1], [9.45, -19.9], [9.57, -26.3], [9.66, -43.6],
    [9.75, -59.8], [9.88, -61.9], [9.97, -52.2], [10.10, -30.6], [10.27, -26.3], [10.43, -18.8], [10.55, -16.6],
    [10.73, -17.7], [10.85, -19.9], [10.98, -26.3], [11.10, -43.6], [11.24, -65.2], [11.46, -67.3], [11.71, -67.3],
    [11.89, -63.0], [12.01, -56.5], [12.14, -47.9], [12.32, -42.5], [12.48, -34.9], [12.63, -39.3], [12.78, -32.8],
    [12.93, -31.7], [13.05, -39.3], [13.20, -52.2], [13.32, -65.2], [13.44, -69.5], [13.60, -63.0], [13.72, -54.4],
    [13.88, -47.9], [14.03, -41.4], [14.15, -45.7], [14.30, -56.5], [14.42, -45.7], [14.52, -41.0], [14.67, -50.1],
    [14.82, -65.2], [15.01, -69.5], [15.25, -70.5], [15.50, -71.6], [15.86, -70.5], [16.23, -70.5], [16.60, -69.5],
    [16.78, -65.2], [16.96, -56.5], [17.15, -45.7], [17.27, -43.6], [17.37, -54.4], [17.49, -39.3], [17.63, -45.7],
    [17.76, -50.1], [17.92, -63.0], [18.04, -43.6], [18.18, -26.3], [18.33, -20.9], [18.49, -22.0], [18.67, -30.6],
    [18.86, -45.7], [19.01, -36.0], [19.16, -30.6], [19.31, -32.8], [19.47, -39.3], [19.59, -42.5], [19.77, -31.7],
    [19.92, -40.3], [20.04, -13.4], [20.17, -19.9], [20.29, -30.6], [20.45, -17.7], [20.57, -19.9], [20.69, -39.3],
    [20.81, -47.9], [21.00, -43.6], [21.18, -45.7], [21.36, -43.6], [21.54, -26.3], [21.67, 10.4], [21.75, 24.4],
    [21.85, 6.0], [21.97, 10.4], [22.09, 18.9], [22.24, 29.8], [22.40, 31.9], [22.58, 40.6], [22.83, 51.3], [23.07, 62.1],
    [23.31, 75.1], [23.50, 81.5], [23.60, 95.0], [23.75, 115.0], [23.85, 140.0], [23.92, 160.0], [24.00, 146.0]])

# ------------------------------------------------------------------ style
sns.set_theme(style="white")
plt.rcParams["font.family"] = ["DejaVu Sans"]
plt.rcParams["mathtext.fontset"] = "dejavusans"

AXBLUE = "#0072BD"
AXORANGE = "#FF8800"
DARK = "#262626"
THICK, THIN = 2.0, 1.0
LONG_DASH = (0, (15, 9.6))
DASH_DOT = (0, (12.2, 4.6, 2.6, 5.0))


def draw(ax, x, y, **kw):
    sns.lineplot(x=np.asarray(x, dtype=float), y=np.asarray(y, dtype=float), ax=ax,
                 sort=False, estimator=None, **kw)


def style(ax, ylim, yticks, ylabel):
    ax.set_facecolor("white")
    ax.set_xlim(0, 24)
    ax.set_ylim(*ylim)
    ax.set_xticks(hour_ticks)
    ax.set_yticks(yticks)
    ax.tick_params(axis="x", bottom=True, top=False, direction="in", length=6.5, width=0.7,
                   color=DARK, labelcolor=DARK, labelsize=10, pad=7)
    ax.tick_params(axis="y", left=True, right=False, direction="in", length=6.5, width=0.7,
                   color=AXBLUE, labelcolor=AXBLUE, labelsize=10, pad=6)
    ax.spines["top"].set_visible(False)
    for s in ("left", "right"):
        ax.spines[s].set_color(AXBLUE)
        ax.spines[s].set_linewidth(0.6)
    ax.spines["bottom"].set_color("#404040")
    ax.spines["bottom"].set_linewidth(0.9)
    ax.set_xlabel("UTC hours on 20240506", fontsize=10.5, color=DARK, labelpad=6)
    ax.set_ylabel(ylabel, fontsize=10.5, color=AXBLUE, labelpad=7)


def shade(ax):
    for a, b in day_spans:
        ax.axvspan(a, b, color="yellow", alpha=0.15, lw=0, zorder=3)


def legend(ax, handles, labels, anchor):
    ax.legend(handles, labels, loc="upper left", bbox_to_anchor=anchor, frameon=False,
              fontsize=9.2, handlelength=5.0, handletextpad=0.5, labelspacing=0.5,
              borderaxespad=0.0)


fig = plt.figure(figsize=(12.75, 16.25), dpi=300)
L, W, H = 0.0975, 0.6876, 0.1842
ax1 = fig.add_axes([L, 0.7545, W, H])
ax2 = fig.add_axes([L, 0.5240, W, H])
ax3 = fig.add_axes([L, 0.2919, W, H])
ax4 = fig.add_axes([L, 0.0615, W, H])

# ---------------- panel 1
draw(ax1, sky_sw_hours, sky_sw_down, color="blue", lw=THICK, label="SKYRAD SW Down")
draw(ax1, sebs_hours, sebs_sw_down, color="plum", lw=THIN, label="SEBS SW Down")
draw(ax1, gnd_sw_hours, gnd_sw_up, color="orange", lw=THICK, label="GNDRAD SW Up")
draw(ax1, sebs_hours, sebs_sw_up, color="brown", lw=THIN, label="SEBS SW Up")
draw(ax1, sebs_hours[15:44], sebs_sw_up[15:44], color="red", lw=1.6)
draw(ax1, sebs_hours[16:44], sebs_sw_down[16:44], color="red", lw=0.6)
style(ax1, (-45.4, 766.7), [0, 100, 200, 300, 400, 500, 600, 700], "BB Shortwave Flux, W/m$^2$")
shade(ax1)
h, l = ax1.get_legend_handles_labels()
legend(ax1, h, l, (0.724, 0.957))

# ---------------- panel 2
draw(ax2, sky_lw[:, 0], sky_lw[:, 1], color="blue", lw=THICK, label="SKYRAD LW Down (P1)")
draw(ax2, sky_lw[:, 0], sky_lw[:, 1], color="lightblue", lw=1.0, label="SKYRAD LW Down (P2)")
draw(ax2, sebs_hours, sebs_lw_down, color="salmon", lw=THIN, label="SEBS LW Down")
draw(ax2, gnd_lw[:, 0], gnd_lw[:, 1], color="orange", lw=THICK, label="GNDRAD LW Up")
draw(ax2, sebs_hours, sebs_lw_up, color="brown", lw=THIN, label="SEBS LW Up")
style(ax2, (280.8, 462.0), [300, 320, 340, 360, 380, 400, 420, 440, 460], "BB Longwave Flux, W/m$^2$")
shade(ax2)
h, l = ax2.get_legend_handles_labels()
legend(ax2, h, l, (0.7095, 0.906))

# ---------------- panel 3
ax3b = ax3.twinx()
draw(ax3, sebs_hours, soil_m1, color="gray", lw=THIN, label="SEBS Soil Moisture 1")
draw(ax3, sebs_hours, soil_m2, color="gray", lw=THIN, linestyle=LONG_DASH, label="SEBS soil moisture 2")
draw(ax3, sebs_hours, soil_m3, color="green", lw=THIN, linestyle=DASH_DOT, label="SEBS soil moisture 3")
draw(ax3b, sebs_hours, soil_avg, color="orange", lw=THICK, label="SEBS average soil moisture")
if ax3.get_legend() is not None:
    ax3.get_legend().remove()
style(ax3, (17.3, 26.73), [18, 19, 20, 21, 22, 23, 24, 25, 26], "Soil Moisture, %")
ax3.spines["right"].set_visible(False)
ax3b.set_xlim(0, 24)
ax3b.set_ylim(17.692, 18.126)
ax3b.set_yticks([17.7, 17.75, 17.8, 17.85, 17.9, 17.95, 18.0, 18.05, 18.1])
ax3b.yaxis.set_major_formatter(FuncFormatter(lambda v, p: f"{v:g}"))
ax3b.tick_params(axis="y", right=True, left=False, direction="in", length=6.5, width=0.7,
                 color=AXORANGE, labelcolor=AXORANGE, labelsize=10, pad=5)
for s in ("left", "top", "bottom"):
    ax3b.spines[s].set_visible(False)
ax3b.spines["right"].set_color(AXORANGE)
ax3b.spines["right"].set_linewidth(0.8)
ax3b.set_ylabel("Average Soil Moisture, %", fontsize=10.5, color=AXORANGE, labelpad=9)
ax3b.grid(False)
shade(ax3b)
h1, l1 = ax3.get_legend_handles_labels()
h2, l2 = ax3b.get_legend_handles_labels()
legend(ax3b, h1 + h2, l1 + l2, (0.6886, 0.629))

# ---------------- panel 4
draw(ax4, sebs_hours, ecor_sens, color="pink", lw=THIN, label="ECOR sensible heat flux")
draw(ax4, sebs_hours, ecor_lat, color="orange", lw=THIN, label="ECOR latent heat flux")
draw(ax4, sebs_hours, ecor_sum, color="brown", lw=THIN, label="ECOR latent + sensible heat flux")
draw(ax4, sebs_hours, sebs_soil_heat, color="blue", lw=THIN, label="SEBS soil heat flux")
draw(ax4, net_rad_sky[:, 0], net_rad_sky[:, 1], color="gray", lw=THICK, label="SKY/GNDRAD net radiation")
draw(ax4, sebs_hours, sebs_net_rad, color="black", lw=THIN, label="SEBS net radiation")
draw(ax4, sebs_hours, sebs_balance, color="green", lw=THIN, label='SEBS "energy balance"')
draw(ax4, sebs_hours, sebs_balance, color="plum", lw=THIN, linestyle=LONG_DASH, label="SEBS net rad + soil heat")
flag_lat_vals = [ecor_lat[sebs_hours.index(t)] for t in flag_lat_hours]
flag_sum_vals = [ecor_sum[sebs_hours.index(t)] for t in flag_sum_hours]
draw(ax4, flag_lat_hours, flag_lat_vals, color="red", marker="x", linestyle="none",
     markersize=5, markeredgewidth=1.3, markeredgecolor="red")
draw(ax4, flag_sum_hours, flag_sum_vals, color="red", marker="x", linestyle="none",
     markersize=5, markeredgewidth=1.3, markeredgecolor="red")
style(ax4, (-96.4, 485.0), [0, 100, 200, 300, 400], "Flux, W/m$^{-2}$")
shade(ax4)
h, l = ax4.get_legend_handles_labels()
keep = [i for i, t in enumerate(l) if not t.startswith("_")]
legend(ax4, [h[i] for i in keep], [l[i] for i in keep], (0.5856, 0.983))

fig.savefig("out.png", dpi=300, facecolor="white")
